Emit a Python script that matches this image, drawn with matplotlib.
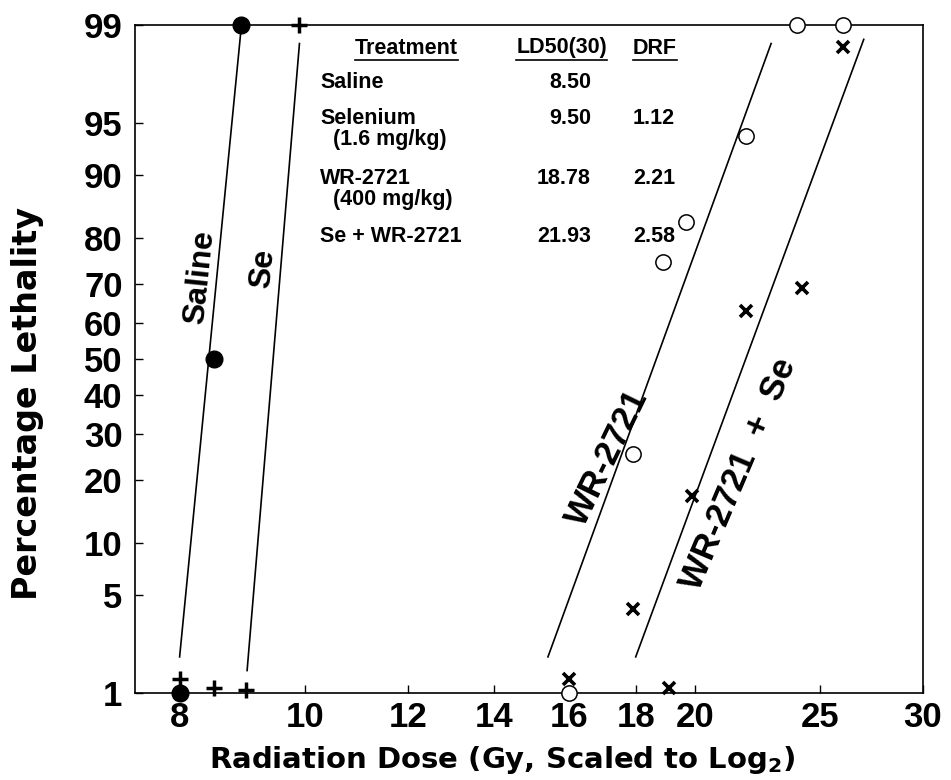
import math
from statistics import NormalDist
import numpy as np
import matplotlib
matplotlib.use("Agg")
import matplotlib.pyplot as plt
from matplotlib.ticker import FixedLocator, FixedFormatter, NullLocator
from matplotlib.lines import Line2D

# ---------------- data ----------------
saline_dose = [8.0, 8.5, 8.93]
saline_pct = [1.0, 50.0, 99.0]

se_dose = [8.0, 8.5, 9.0, 9.9]
se_pct = [1.3, 1.1, 1.05, 99.0]

wr_dose = [16.0, 17.9, 18.9, 19.7, 21.9, 24.0, 26.0]
wr_pct = [1.0, 25.5, 75.0, 83.0, 94.0, 99.0, 99.0]

wrse_dose = [16.0, 17.9, 19.1, 19.9, 21.9, 24.2, 26.0]
wrse_pct = [1.3, 4.1, 1.1, 17.0, 63.0, 69.0, 98.5]

saline_fit_dose = [8.0, 8.93]
saline_fit_pct = [1.9, 99.0]
se_fit_dose = [9.02, 9.9]
se_fit_pct = [1.5, 98.6]
wr_fit_dose = [15.4, 22.9]
wr_fit_pct = [1.9, 98.6]
wrse_fit_dose = [18.0, 27.0]
wrse_fit_pct = [1.9, 98.7]

x_ticks = [8, 10, 12, 14, 16, 18, 20, 25, 30]
y_ticks = [1, 5, 10, 20, 30, 40, 50, 60, 70, 80, 90, 95, 99]

table_headers = ["Treatment", "LD50(30)", "DRF"]
treatments = ["Saline", "Selenium", "WR-2721", "Se + WR-2721"]
treatment_notes = ["", "(1.6 mg/kg)", "(400 mg/kg)", ""]
ld50_values = ["8.50", "9.50", "18.78", "21.93"]
drf_values = ["", "1.12", "2.21", "2.58"]

# ---------------- probit scale ----------------
_nd = NormalDist()
_ppf = np.vectorize(lambda p: _nd.inv_cdf(p) if 0.0 < p < 1.0 else np.nan, otypes=[float])
_cdf = np.vectorize(lambda z: 50.0 * (1.0 + math.erf(z / math.sqrt(2.0))), otypes=[float])


def probit_fwd(y):
    y = np.asarray(y, dtype=float)
    p = np.clip(y / 100.0, 1e-7, 1 - 1e-7)
    return _ppf(p)


def probit_inv(z):
    return _cdf(np.asarray(z, dtype=float))


# ---------------- figure ----------------
W, H = 951, 780
fig = plt.figure(figsize=(W / 100, H / 100), dpi=100)
L, R, T, B = 135, 923, 25, 693
ax = fig.add_axes([L / W, 1 - B / H, (R - L) / W, (B - T) / H])

ax.set_xscale("log", base=2)
ax.set_yscale("function", functions=(probit_fwd, probit_inv))
ax.set_xlim(7.39, 30)
ax.set_ylim(1, 99)

TF = "Liberation Sans"
ax.xaxis.set_major_locator(FixedLocator(x_ticks))
ax.xaxis.set_major_formatter(FixedFormatter([str(t) for t in x_ticks]))
ax.xaxis.set_minor_locator(NullLocator())
ax.yaxis.set_major_locator(FixedLocator(y_ticks))
ax.yaxis.set_major_formatter(FixedFormatter([str(t) for t in y_ticks]))
ax.yaxis.set_minor_locator(NullLocator())
ax.tick_params(direction="in", length=6, width=1.0, colors="black")
ax.tick_params(axis="x", pad=6)
ax.tick_params(axis="y", pad=9)
for lab in ax.get_xticklabels() + ax.get_yticklabels():
    lab.set_fontfamily(TF)
    lab.set_fontweight("bold")
    lab.set_fontsize(25)
for s in ax.spines.values():
    s.set_linewidth(1.2)

ax.set_xlabel("Radiation Dose (Gy, Scaled to Log$_\\mathbf{2}$)", fontfamily="DejaVu Sans",
              fontweight="bold", fontsize=21)
ax.xaxis.set_label_coords(0.466, -0.076)
ax.set_ylabel("Percentage Lethality", fontfamily="DejaVu Sans", fontweight="bold",
              fontsize=24)
ax.yaxis.set_label_coords(-0.116, 0.433)

# fit lines
for fx, fy in [(saline_fit_dose, saline_fit_pct), (se_fit_dose, se_fit_pct),
               (wr_fit_dose, wr_fit_pct), (wrse_fit_dose, wrse_fit_pct)]:
    ax.plot(fx, fy, color="black", lw=1.2, clip_on=False)

# markers
ax.plot(saline_dose, saline_pct, "o", color="black", ms=12, clip_on=False, zorder=5)
ax.plot(se_dose, se_pct, "+", color="black", ms=11, mew=2.5, clip_on=False, zorder=5)
ax.plot(wr_dose, wr_pct, "o", mfc="white", mec="black", ms=11, mew=1.1, clip_on=False, zorder=4)
ax.plot(wrse_dose, wrse_pct, "x", color="black", ms=8, mew=2.6, clip_on=False, zorder=6)

# curve labels
lab_kw = dict(transform=ax.transAxes, fontfamily=TF, fontweight="bold",
              ha="center", va="center", rotation_mode="anchor")
ax.text(0.0825, 0.623, "Saline", fontsize=23, rotation=84, **lab_kw)
ax.text(0.162, 0.636, "Se", fontsize=23, rotation=84, **lab_kw)
ax.text(0.600, 0.352, "WR-2721", fontsize=25, rotation=64, **lab_kw)
ax.text(0.766, 0.328, "WR-2721  +  Se", fontsize=25, rotation=67, **lab_kw)


# table
def fxy(xp, yp):
    return xp / W, 1 - yp / H


tkw = dict(fontfamily=TF, fontweight="bold", fontsize=15.5, va="center")
hdr_pos = [(355, "left"), (607, "right"), (633, "left")]
hdr_texts = []
for h, (xp, ha) in zip(table_headers, hdr_pos):
    hdr_texts.append(fig.text(*fxy(xp, 48), h, ha=ha, **tkw))

row_y = [83, 118, 178, 236]
for name, note, ld, d, yp in zip(treatments, treatment_notes, ld50_values, drf_values, row_y):
    fig.text(*fxy(320, yp), name, ha="left", **tkw)
    if note:
        fig.text(*fxy(333, yp + 22), note, ha="left", **tkw)
    fig.text(*fxy(591, yp), ld, ha="right", **tkw)
    if d:
        fig.text(*fxy(633, yp), d, ha="left", **tkw)

fig.canvas.draw()
rend = fig.canvas.get_renderer()
for t in hdr_texts:
    bb = t.get_window_extent(rend)
    yline = bb.y0 - 1
    fig.add_artist(Line2D([bb.x0 / W, bb.x1 / W], [yline / H, yline / H],
                          color="black", lw=1.2, transform=fig.transFigure))

fig.savefig("out.png", dpi=100)
